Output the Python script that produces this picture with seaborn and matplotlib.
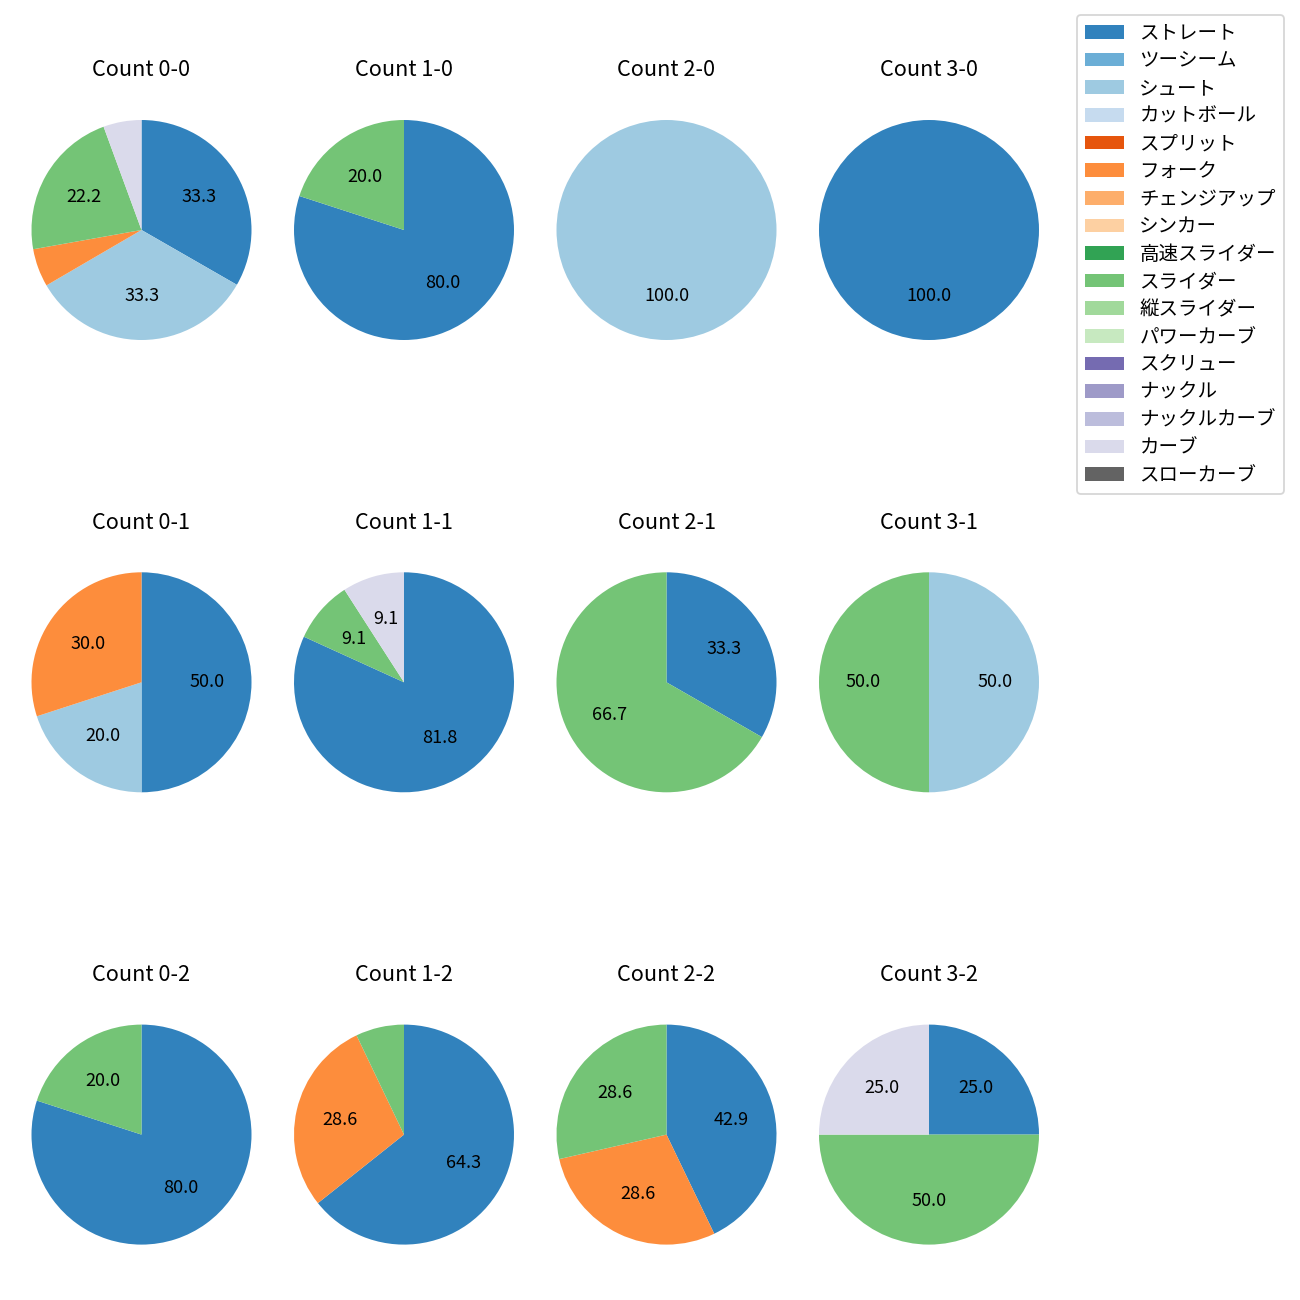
import matplotlib
matplotlib.use("Agg")
import seaborn as sns
import matplotlib.pyplot as plt
from matplotlib.patches import Patch

plt.rcParams["font.family"] = ["Noto Sans CJK JP", "DejaVu Sans"]

# pitch types, in legend order
pitch_types = [
    "ストレート", "ツーシーム", "シュート", "カットボール", "スプリット",
    "フォーク", "チェンジアップ", "シンカー", "高速スライダー", "スライダー",
    "縦スライダー", "パワーカーブ", "スクリュー", "ナックル", "ナックルカーブ",
    "カーブ", "スローカーブ",
]

# grid layout: rows = strikes, columns = balls
balls = [0, 1, 2, 3]
strikes = [0, 1, 2]

# share (%) of each pitch type per count
count_0_0 = {"ストレート": 33.3, "シュート": 33.3, "フォーク": 5.6, "スライダー": 22.2, "カーブ": 5.6}
count_1_0 = {"ストレート": 80.0, "スライダー": 20.0}
count_2_0 = {"シュート": 100.0}
count_3_0 = {"ストレート": 100.0}
count_0_1 = {"ストレート": 50.0, "シュート": 20.0, "フォーク": 30.0}
count_1_1 = {"ストレート": 81.8, "スライダー": 9.1, "カーブ": 9.1}
count_2_1 = {"ストレート": 33.3, "スライダー": 66.7}
count_3_1 = {"シュート": 50.0, "スライダー": 50.0}
count_0_2 = {"ストレート": 80.0, "スライダー": 20.0}
count_1_2 = {"ストレート": 64.3, "フォーク": 28.6, "スライダー": 7.1}
count_2_2 = {"ストレート": 42.9, "フォーク": 28.6, "スライダー": 28.6}
count_3_2 = {"ストレート": 25.0, "スライダー": 50.0, "カーブ": 25.0}

shares = {
    (0, 0): count_0_0, (1, 0): count_1_0, (2, 0): count_2_0, (3, 0): count_3_0,
    (0, 1): count_0_1, (1, 1): count_1_1, (2, 1): count_2_1, (3, 1): count_3_1,
    (0, 2): count_0_2, (1, 2): count_1_2, (2, 2): count_2_2, (3, 2): count_3_2,
}

palette = sns.color_palette("tab20c", 20)[:len(pitch_types)]
colors = dict(zip(pitch_types, palette))


def autopct(p):
    # small slices get no label
    return f"{p:.1f}" if p >= 8 else ""


fig, axes = plt.subplots(3, 4, figsize=(10, 10), dpi=130)

W = H = 1300.0
size = 275.0

for r, s in enumerate(strikes):
    for c, b in enumerate(balls):
        ax = axes[r, c]
        data = shares[(b, s)]
        names = [p for p in pitch_types if data.get(p, 0) > 0]
        vals = [data[p] for p in names]
        ax.pie(
            vals,
            colors=[colors[p] for p in names],
            startangle=90,
            counterclock=False,
            autopct=autopct,
        )
        ax.set_title(f"Count {b}-{s}", pad=9)

        cx = 141.5 + 262.5 * c
        cy = 230.0 + 452.3 * r
        ax.set_position([(cx - size / 2) / W, 1 - (cy + size / 2) / H,
                         size / W, size / H])

handles = [Patch(facecolor=colors[p], label=p) for p in pitch_types]
fig.legend(
    handles=handles,
    loc="upper left",
    bbox_to_anchor=(1077 / W, 1 - 15 / H),
    borderaxespad=0,
    fontsize=10.8,
    labelspacing=0.34,
)

fig.savefig("out.png", dpi=130)
